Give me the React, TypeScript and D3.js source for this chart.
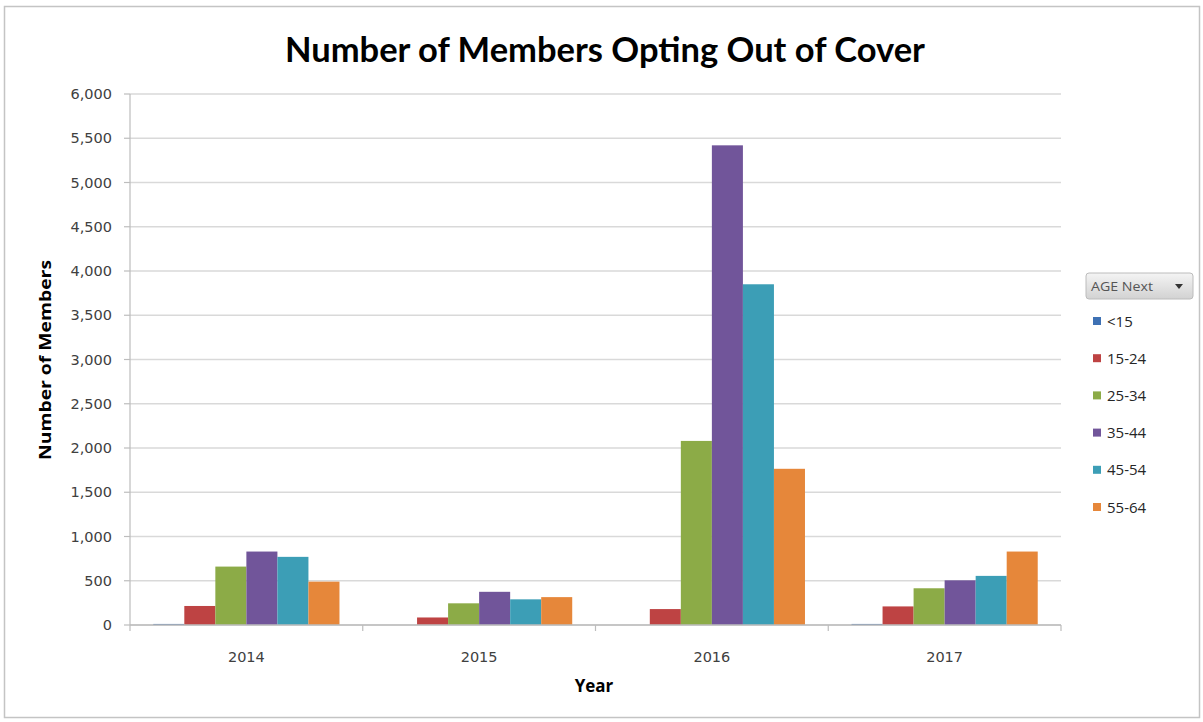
import React from "react";
import * as d3 from "d3";

const years = ["2014", "2015", "2016", "2017"];
const ageGroups = ["<15", "15-24", "25-34", "35-44", "45-54", "55-64"];
const colors = ["#3E71B4", "#BE4343", "#8CAB47", "#71559A", "#3C9EB6", "#E6873A"];
const values2014 = [12, 215, 660, 830, 770, 490];
const values2015 = [0, 85, 245, 375, 290, 315];
const values2016 = [0, 180, 2080, 5420, 3850, 1765];
const values2017 = [12, 210, 415, 505, 555, 830];
const yTicks = [0, 500, 1000, 1500, 2000, 2500, 3000, 3500, 4000, 4500, 5000, 5500, 6000];

const dataByYear = [values2014, values2015, values2016, values2017];

const W = 1203;
const H = 722;
const plotLeft = 130;
const plotRight = 1061;
const plotTop = 94;
const plotBottom = 625;

export default function App() {
  const x = d3.scaleBand<string>().domain(years).range([plotLeft, plotRight]).paddingInner(0).paddingOuter(0);
  const bw = x.bandwidth();
  const barW = bw / (ageGroups.length + 1.5);
  const inner = d3
    .scaleBand<string>()
    .domain(ageGroups)
    .range([barW * 0.75, barW * 0.75 + barW * ageGroups.length])
    .padding(0);
  const y = d3.scaleLinear().domain([0, 6000]).range([plotBottom, plotTop]);
  const fmt = d3.format(",");
  const boundaries = [...years.map((yr) => x(yr) as number), plotRight];

  return (
    <svg width={W} height={H} style={{ position: "absolute", left: 0, top: 0, background: "#fff" }}>
      <defs>
        <linearGradient id="btn" x1="0" y1="0" x2="0" y2="1">
          <stop offset="0" stopColor="#f4f4f4" />
          <stop offset="1" stopColor="#d2d2d2" />
        </linearGradient>
      </defs>
      <rect x={0} y={0} width={W} height={H} fill="#fff" />
      <rect x={4.5} y={6.5} width={1195} height={711} fill="none" stroke="#c4c4c4" strokeWidth={1.5} />

      <text
        x={605}
        y={62}
        textAnchor="middle"
        fontFamily="Lato, 'Open Sans', sans-serif"
        fontWeight="bold"
        fontSize={34}
        fill="#000"
        textLength={640}
        lengthAdjust="spacingAndGlyphs"
      >
        Number of Members Opting Out of Cover
      </text>

      {yTicks.map((t) => (
        <line key={"g" + t} x1={plotLeft} x2={plotRight} y1={y(t)} y2={y(t)} stroke="#d9d9d9" strokeWidth={1.6} />
      ))}

      <line x1={plotLeft} x2={plotLeft} y1={plotTop} y2={plotBottom} stroke="#bdbdbd" strokeWidth={1.2} />
      {yTicks.map((t) => (
        <g key={"t" + t}>
          <line x1={plotLeft - 6} x2={plotLeft} y1={y(t)} y2={y(t)} stroke="#bdbdbd" strokeWidth={1.2} />
          <text
            x={112}
            y={y(t) + 5}
            textAnchor="end"
            fontFamily="'DejaVu Sans', sans-serif"
            fontSize={14.5}
            fill="#404040"
          >
            {fmt(t)}
          </text>
        </g>
      ))}

      {years.map((yr, i) => (
        <g key={yr} transform={`translate(${x(yr)},0)`}>
          {ageGroups.map((ag, j) => {
            const v = dataByYear[i][j];
            return (
              <rect
                key={ag}
                x={inner(ag) as number}
                y={y(v)}
                width={inner.bandwidth()}
                height={plotBottom - y(v)}
                fill={colors[j]}
              />
            );
          })}
        </g>
      ))}

      <line x1={plotLeft} x2={plotRight} y1={plotBottom} y2={plotBottom} stroke="#bdbdbd" strokeWidth={1.4} />
      {boundaries.map((b, i) => (
        <line key={"xb" + i} x1={b} x2={b} y1={plotBottom} y2={plotBottom + 6} stroke="#bdbdbd" strokeWidth={1.2} />
      ))}
      {years.map((yr) => (
        <text
          key={"xl" + yr}
          x={(x(yr) as number) + bw / 2}
          y={662}
          textAnchor="middle"
          fontFamily="'DejaVu Sans', sans-serif"
          fontSize={14.5}
          fill="#404040"
        >
          {yr}
        </text>
      ))}

      <text
        x={594}
        y={692}
        textAnchor="middle"
        fontFamily="'Open Sans', sans-serif"
        fontWeight="bold"
        fontSize={17}
        fill="#000"
      >
        Year
      </text>
      <text
        transform={`translate(51,${360}) rotate(-90)`}
        textAnchor="middle"
        fontFamily="'Open Sans', sans-serif"
        fontWeight="bold"
        fontSize={16}
        fill="#000"
        textLength={200}
        lengthAdjust="spacingAndGlyphs"
      >
        Number of Members
      </text>

      <rect x={1086} y={273} width={107} height={26} rx={3} fill="url(#btn)" stroke="#bcbcbc" />
      <text x={1091} y={291} fontFamily="'Open Sans', sans-serif" fontSize={13} fill="#555" textLength={62} lengthAdjust="spacingAndGlyphs">
        AGE Next
      </text>
      <path d="M1175,284 L1183,284 L1179,289 Z" fill="#333" />
      {ageGroups.map((ag, j) => {
        const cy = 321 + j * 37.2;
        return (
          <g key={"lg" + ag}>
            <rect x={1093} y={cy - 4} width={8} height={8} fill={colors[j]} />
            <text x={1107} y={cy + 5.5} fontFamily="'Open Sans', sans-serif" fontSize={15} fill="#262626">
              {ag}
            </text>
          </g>
        );
      })}
    </svg>
  );
}
